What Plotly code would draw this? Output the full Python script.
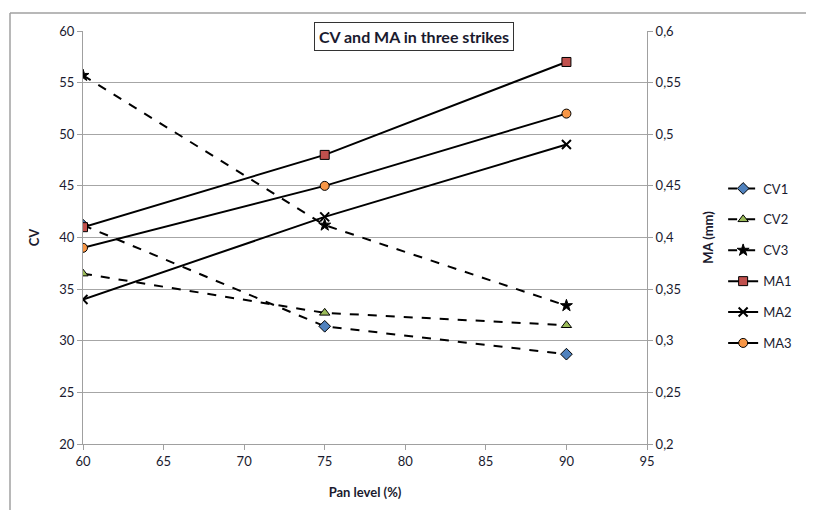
import plotly.graph_objects as go

pan_level = [60, 75, 90]
cv1 = [41.2, 31.4, 28.7]
cv2 = [36.5, 32.7, 31.5]
cv3 = [55.7, 41.2, 33.4]
ma1 = [0.41, 0.48, 0.57]
ma2 = [0.34, 0.42, 0.49]
ma3 = [0.39, 0.45, 0.52]

FONT = "Lato"
TXT = "#1a1a2e"

fig = go.Figure()

cv_specs = [
    ("CV1", cv1, "diamond", "#4f81bd", 9),
    ("CV2", cv2, "triangle-up", "#9bbb59", 9),
    ("CV3", cv3, "star", "#000000", 9),
]
for name, vals, sym, col, sz in cv_specs:
    fig.add_trace(go.Scatter(
        x=pan_level, y=vals, name=name, mode="lines+markers",
        line=dict(color="black", width=2, dash="dash"),
        marker=dict(symbol=sym, color=col, size=sz, line=dict(color="black", width=1)),
        legendgroup=name, yaxis="y",
    ))

ma_specs = [
    ("MA1", ma1, "square", "#c0504d", 9),
    ("MA2", ma2, "x-thin-open", "#000000", 9),
    ("MA3", ma3, "circle", "#f79646", 9),
]
for name, vals, sym, col, sz in ma_specs:
    mline = dict(color="black", width=2 if sym.startswith("x") else 1)
    fig.add_trace(go.Scatter(
        x=pan_level, y=vals, name=name, mode="lines+markers",
        line=dict(color="black", width=2),
        marker=dict(symbol=sym, color=col, size=sz, line=mline),
        legendgroup=name, yaxis="y2",
    ))

W, H = 806, 502
L, R, T, B = 75, 167, 23, 64
PW, PH = W - L - R, H - T - B

fig.update_layout(
    width=W, height=H,
    margin=dict(l=L, r=R, t=T, b=B),
    paper_bgcolor="white", plot_bgcolor="white",
    separators=", ",
    font=dict(family=FONT, size=13, color=TXT),
    showlegend=True,
    legend=dict(x=1.135, y=0.655, xanchor="left", yanchor="top",
                tracegroupgap=11, font=dict(size=13, color=TXT),
                bgcolor="rgba(0,0,0,0)"),
    xaxis=dict(range=[60, 95], dtick=5, tick0=60, showgrid=False,
               showline=True, linecolor="#a0a0a0", linewidth=1,
               ticks="outside", ticklen=5, tickcolor="#a0a0a0",
               zeroline=False,
               title=dict(text="<b>Pan level (%)</b>", font=dict(size=13, color=TXT), standoff=20)),
    yaxis=dict(range=[20, 60], dtick=5, showgrid=True, gridcolor="#a6a6a6",
               showline=True, linecolor="#a0a0a0", linewidth=1,
               ticks="outside", ticklen=5, tickcolor="#a0a0a0", zeroline=False,
               title=dict(text="<b>CV</b>", font=dict(size=13, color=TXT), standoff=16)),
    yaxis2=dict(range=[0.2, 0.6], dtick=0.05, overlaying="y", side="right",
                showgrid=False, showline=True, linecolor="#a0a0a0", linewidth=1,
                ticks="outside", ticklen=5, tickcolor="#a0a0a0", zeroline=False,
                tickformat=".2~f",
                title=dict(text="<b>MA (mm)</b>", font=dict(size=13, color=TXT), standoff=23)),
)

fig.add_annotation(
    text="<b>CV and MA in three strikes</b>", xref="paper", yref="paper",
    x=(406 - L) / PW, y=1 - 6 / PH, xanchor="center", yanchor="middle",
    showarrow=False, bgcolor="white", bordercolor="#333333", borderwidth=1,
    borderpad=4, font=dict(size=16, color=TXT, family=FONT),
)

# outer chart-area border (left and top edges visible)
bx0 = (2 - L) / PW
bx1 = (W + 20 - L) / PW
by0 = -(H + 20 - (H - B)) / PH
by1 = 1 + (T - 5) / PH
fig.add_shape(type="line", xref="paper", yref="paper",
              x0=bx0, x1=bx0, y0=by0, y1=by1,
              line=dict(color="#a0a0a0", width=1.5), layer="below")
fig.add_shape(type="line", xref="paper", yref="paper",
              x0=bx0, x1=bx1, y0=by1, y1=by1,
              line=dict(color="#a0a0a0", width=1.5), layer="below")

fig.write_html("out.html", config={"displayModeBar": False})
